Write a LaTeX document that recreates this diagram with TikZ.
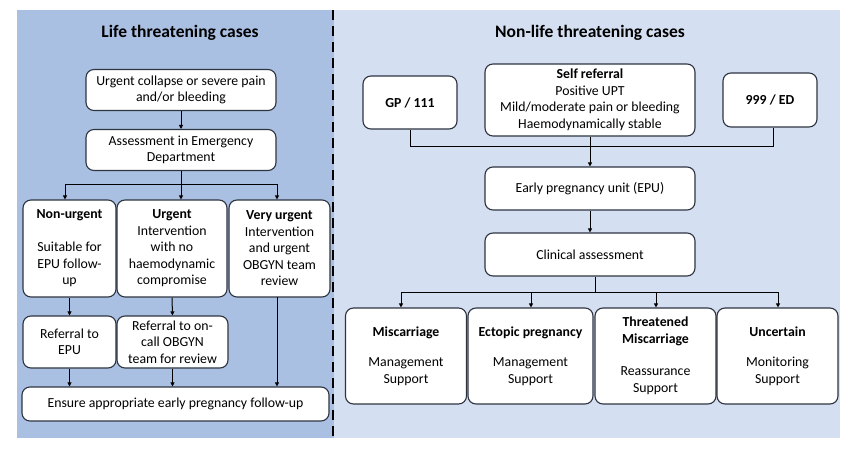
\documentclass[tikz,border=0pt]{standalone}
\usepackage{fontspec}
\setmainfont{Carlito}
\usetikzlibrary{arrows.meta}
\definecolor{leftbg}{HTML}{AAC0E3}
\definecolor{rightbg}{HTML}{D4DFF2}
\definecolor{edge}{HTML}{2E3440}
\begin{document}
\begin{tikzpicture}[x=1pt,y=-1pt,
  box/.style={draw=edge,line width=1.1pt,fill=white,rounded corners=8pt,align=center,font=\fontsize{13.8}{16.5}\selectfont,inner sep=1pt},
  conn/.style={draw=black,line width=1pt},
  arr/.style={conn,-{Triangle[length=4pt,width=4pt]}},
  title/.style={font=\fontsize{17.5}{20}\selectfont\bfseries}]
\useasboundingbox (0,0) rectangle (855,458);
\fill[white] (0,0) rectangle (855,458);
\fill[leftbg] (17,10) rectangle (334,438);
\fill[rightbg] (334,10) rectangle (840,438);
\coordinate (dtop) at (333,10);
\coordinate (dbot) at (333,436);
\draw[line width=2.6pt,dash pattern=on 10pt off 6pt] (dtop) -- (dbot);

\node[title] (lt) at (180,33) {Life threatening cases};
\node[title] (rt) at (590,33) {Non-life threatening cases};

% left column
\node[box,minimum width=190pt,minimum height=41pt] (b1) at (181,90) {Urgent collapse or severe pain\\and/or bleeding};
\node[box,minimum width=190pt,minimum height=41pt] (b2) at (181,150) {Assessment in Emergency\\Department};
\node[box,minimum width=93pt,minimum height=97pt] (nu) at (69.5,248.5) {\textbf{Non-urgent}\\[16.5pt]Suitable for\\EPU follow-\\up};
\node[box,minimum width=110pt,minimum height=97pt] (ur) at (172,248.5) {\textbf{Urgent}\\Intervention\\with no\\haemodynamic\\compromise};
\node[box,minimum width=101pt,minimum height=97pt] (vu) at (279.5,248.5) {\textbf{Very urgent}\\Intervention\\and urgent\\OBGYN team\\review};
\node[box,minimum width=93pt,minimum height=52pt] (re) at (69.5,342) {Referral to\\EPU};
\node[box,minimum width=111pt,minimum height=52pt] (ro) at (172.5,342) {Referral to on-\\call OBGYN\\team for review};
\node[box,minimum width=307pt,minimum height=34pt] (fu) at (175.5,404) {Ensure appropriate early pregnancy follow-up};

\draw[arr] (b1) -- (b2);
\coordinate (lj) at (181,184);
\draw[conn] (b2.south) -- (lj);
\coordinate (lj1) at (65,184);
\coordinate (lj3) at (277,184);
\draw[conn] (lj1) -- (lj3);
\draw[arr] (lj1) -- (lj1 |- nu.north);
\draw[arr] (lj) -- (lj |- ur.north);
\draw[arr] (lj3) -- (lj3 |- vu.north);
\draw[arr] (nu.south) -- (re.north);
\draw[arr] (ur.south) -- (ro.north);
\draw[arr] (re.south) -- (re.south |- fu.north);
\draw[arr] (ro.south) -- (ro.south |- fu.north);
\coordinate (vb) at (277,297);
\draw[arr] (vb) -- (vb |- fu.north);

% right column
\node[box,minimum width=94pt,minimum height=53pt] (gp) at (410,102.5) {\textbf{GP / 111}};
\node[box,minimum width=210pt,minimum height=72pt] (sr) at (590,100) {\textbf{Self referral}\\Positive UPT\\Mild/moderate pain or bleeding\\Haemodynamically stable};
\node[box,minimum width=94pt,minimum height=54pt] (ed) at (770,100) {\textbf{999 / ED}};
\node[box,minimum width=210pt,minimum height=43pt] (epu) at (590,188.5) {Early pregnancy unit (EPU)};
\node[box,minimum width=210pt,minimum height=43pt] (ca) at (590,254.5) {Clinical assessment};

\coordinate (rj) at (590,146);
\coordinate (rj1) at (410,146);
\coordinate (rj3) at (773,146);
\draw[conn] (gp.south) -- (rj1) -- (rj3) -- (rj3 |- ed.south);
\draw[conn] (sr.south) -- (rj);
\draw[arr] (rj) -- (epu.north);
\draw[arr] (epu) -- (ca);

\node[box,minimum width=121pt,minimum height=96pt] (mc) at (406,356) {\textbf{Miscarriage}\\[14pt]Management\\Support};
\node[box,minimum width=125pt,minimum height=96pt] (ep) at (530.5,356) {\textbf{Ectopic pregnancy}\\[14pt]Management\\Support};
\node[box,minimum width=121pt,minimum height=96pt] (tm) at (655.5,356) {\textbf{Threatened}\\\textbf{Miscarriage}\\[16pt]Reassurance\\Support};
\node[box,minimum width=121pt,minimum height=96pt] (un) at (777.5,356) {\textbf{Uncertain}\\[14pt]Monitoring\\Support};

\coordinate (cj) at (595,292);
\coordinate (cj1) at (401,292);
\coordinate (cj2) at (531,292);
\coordinate (cj3) at (656,292);
\coordinate (cj4) at (778,292);
\draw[conn] (ca.south -| cj) -- (cj);
\draw[conn] (cj1) -- (cj4);
\draw[arr] (cj1) -- (cj1 |- mc.north);
\draw[arr] (cj2) -- (cj2 |- ep.north);
\draw[arr] (cj3) -- (cj3 |- tm.north);
\draw[arr] (cj4) -- (cj4 |- un.north);
\end{tikzpicture}
\end{document}
